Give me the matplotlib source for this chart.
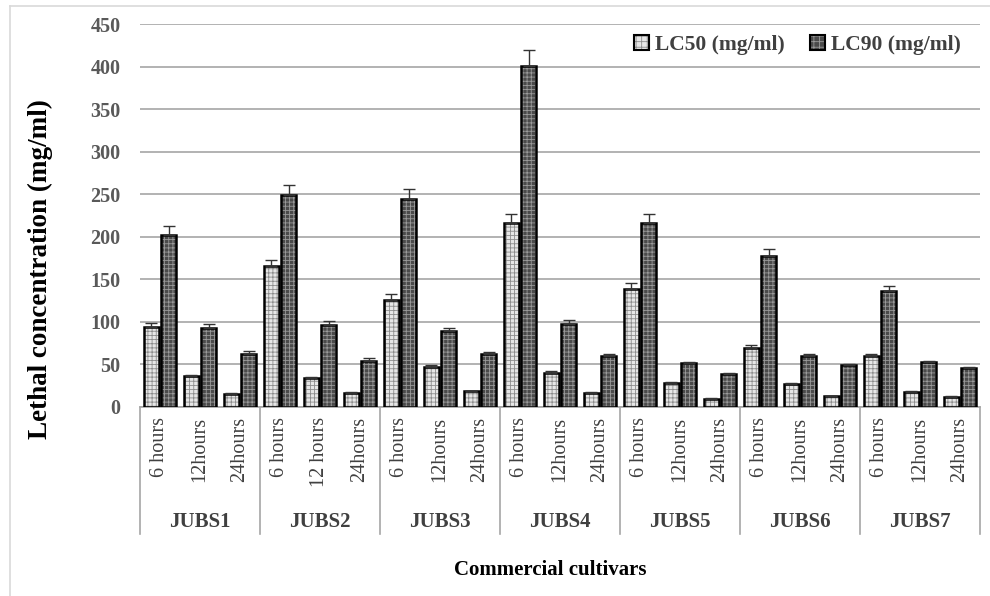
import numpy as np
import matplotlib
matplotlib.use("Agg")
import matplotlib.pyplot as plt
from matplotlib.patches import Patch
from matplotlib.legend_handler import HandlerTuple
from matplotlib.lines import Line2D

# ---- data ----
cultivars = ["JUBS1", "JUBS2", "JUBS3", "JUBS4", "JUBS5", "JUBS6", "JUBS7"]
time_labels = [
    ["6 hours", "12hours", "24hours"],
    ["6 hours", "12 hours", "24hours"],
    ["6 hours", "12hours", "24hours"],
    ["6 hours", "12hours", "24hours"],
    ["6 hours", "12hours", "24hours"],
    ["6 hours", "12hours", "24hours"],
    ["6 hours", "12hours", "24hours"],
]
lc50 = [94, 36, 15, 165, 34, 16, 126, 47, 18, 216, 40, 16, 138, 28, 9, 69, 27, 12, 60, 17, 11]
lc50_err = [5, 1, 1, 8, 1, 1, 7, 2, 1, 11, 2, 1, 8, 1, 1, 3, 1, 1, 2, 1, 1]
lc90 = [202, 93, 62, 249, 96, 54, 244, 89, 62, 401, 97, 60, 216, 51, 39, 177, 60, 49, 136, 52, 46]
lc90_err = [10, 4, 3, 12, 5, 3, 12, 3, 2, 19, 5, 2, 11, 1, 1, 8, 2, 1, 6, 2, 1]
series_names = ["LC50 (mg/ml)", "LC90 (mg/ml)"]
yticks = [0, 50, 100, 150, 200, 250, 300, 350, 400, 450]

SERIF = ["Liberation Serif", "DejaVu Serif"]
plt.rcParams["font.family"] = SERIF
plt.rcParams["hatch.linewidth"] = 0.6

W, H = 990, 596
fig = plt.figure(figsize=(W / 100, H / 100), dpi=100)
ax = fig.add_axes([140 / W, 1 - 406.7 / H, 840 / W, 382.7 / H])

n = len(lc50)
x = np.arange(n)
off, bw = 0.22, 0.38

styles = [
    dict(face="#e6e6e6", hatchc="#8c8c8c"),
    dict(face="#4a4a4a", hatchc="#9a9a9a"),
]
handles = []
for k, (vals, errs) in enumerate([(lc50, lc50_err), (lc90, lc90_err)]):
    xs = x - off if k == 0 else x + off
    st = styles[k]
    ax.bar(xs, vals, bw, color=st["face"], edgecolor=st["hatchc"], hatch="++++",
           linewidth=0, zorder=3)
    ax.bar(xs, vals, bw, fill=False, edgecolor="black", linewidth=1.8, zorder=4)
    ax.errorbar(xs, vals, yerr=[np.zeros(n), errs], fmt="none", ecolor="#333333",
                elinewidth=1.0, capsize=4, capthick=1.0, zorder=5)
    p1 = Patch(facecolor=st["face"], edgecolor=st["hatchc"], hatch="+++", linewidth=0)
    p2 = Patch(fill=False, edgecolor="black", linewidth=1.5)
    handles.append((p1, p2))

ax.set_xlim(-0.5, n - 0.5)
ax.set_ylim(0, 450)
ax.set_yticks(yticks)
ax.set_yticklabels([str(t) for t in yticks], fontsize=14.5, fontweight="bold", color="#595959")
ax.tick_params(axis="y", length=0, pad=14)
ax.set_xticks([])
ax.yaxis.grid(True, color="#a6a6a6", linewidth=1.2, zorder=0)
ax.set_axisbelow(True)
for s in ["top", "right", "left"]:
    ax.spines[s].set_visible(False)
ax.spines["bottom"].set_color("#a6a6a6")
ax.spines["bottom"].set_linewidth(1.2)

# category labels
trans = ax.get_xaxis_transform()
for g, name in enumerate(cultivars):
    for j, lab in enumerate(time_labels[g]):
        ax.text(3 * g + j, -0.027, lab, transform=trans, rotation=90, ha="center", va="top",
                fontsize=14.5, color="#404040")
    ax.text(3 * g + 1, -0.30, name, transform=trans, ha="center", va="center",
            fontsize=15, fontweight="bold", color="#404040")
for b in range(len(cultivars) + 1):
    ax.add_line(Line2D([3 * b - 0.5, 3 * b - 0.5], [0, -0.332], transform=trans,
                       color="#a6a6a6", linewidth=1.2, clip_on=False))

leg = ax.legend(handles, series_names, handler_map={tuple: HandlerTuple(ndivide=1, pad=0)},
                loc="center right", bbox_to_anchor=(1.0, 0.945), ncol=2, frameon=False,
                handlelength=0.7, handleheight=0.7, handletextpad=0.25, columnspacing=1.2,
                prop=dict(family=SERIF, size=15.5, weight="bold"))
for t in leg.get_texts():
    t.set_color("#404040")

fig.text(40 / W, 1 - 269 / H, "Lethal concentration (mg/ml)", rotation=90, ha="center",
         va="center", fontsize=19.5, fontweight="bold", color="black")
fig.text(550 / W, 1 - 570 / H, "Commercial cultivars", ha="center", va="center",
         fontsize=15, fontweight="bold", color="black")

# outer frame (top and left)
fig.add_artist(Line2D([10 / W, 10 / W], [0, 1 - 6 / H], transform=fig.transFigure,
                      color="#d9d9d9", linewidth=1.2))
fig.add_artist(Line2D([10 / W, 1], [1 - 6 / H, 1 - 6 / H], transform=fig.transFigure,
                      color="#d9d9d9", linewidth=1.2))

fig.savefig("out.png", dpi=100)
